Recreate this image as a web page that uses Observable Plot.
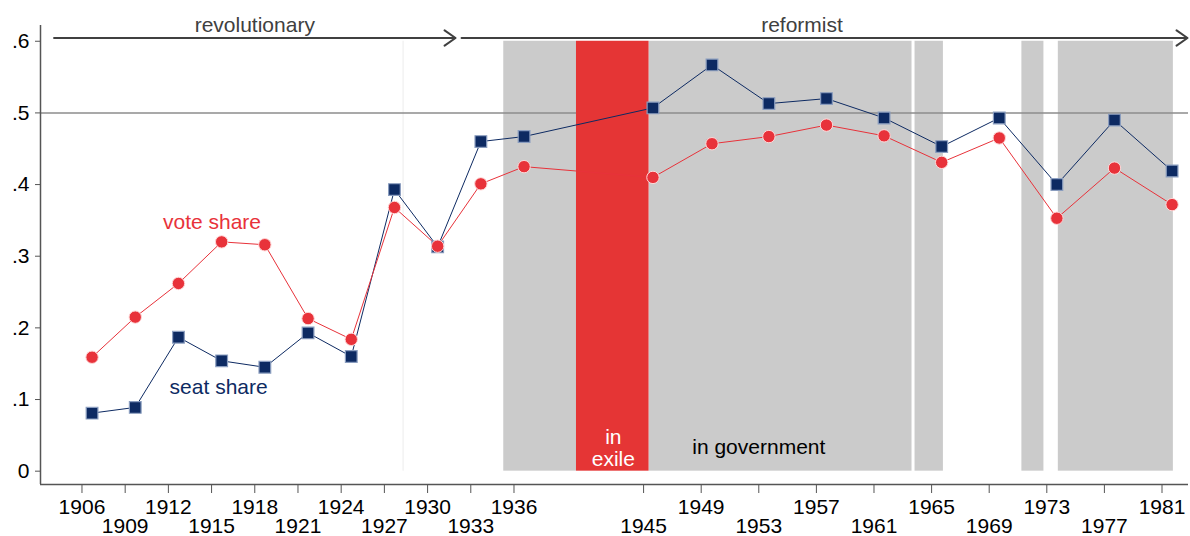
<!DOCTYPE html>
<html>
<head>
<meta charset="utf-8">
<script src="https://cdn.jsdelivr.net/npm/d3@7"></script>
<script src="https://cdn.jsdelivr.net/npm/@observablehq/plot@0.6"></script>
<style>
  body { margin: 0; background: #fff; }
  #chart svg { font-family: "Liberation Sans", Arial, Helvetica, sans-serif; }
</style>
</head>
<body>
<div id="chart"></div>
<script>
// election years (tick labels) and the date each point sits at
const years = [1906, 1909, 1912, 1915, 1918, 1921, 1924, 1927, 1930, 1933, 1936,
  1945, 1949, 1953, 1957, 1961, 1965, 1969, 1973, 1977, 1981];
const electionDate = [1906.7, 1909.7, 1912.7, 1915.7, 1918.7, 1921.7, 1924.7, 1927.7, 1930.7, 1933.7, 1936.7,
  1945.65, 1949.75, 1953.7, 1957.7, 1961.7, 1965.7, 1969.7, 1973.7, 1977.7, 1981.7];
const voteShare = [0.159, 0.215, 0.262, 0.320, 0.316, 0.213, 0.184, 0.368, 0.314, 0.401, 0.425,
  0.410, 0.457, 0.467, 0.483, 0.468, 0.431, 0.465, 0.353, 0.423, 0.372];
const seatShare = [0.081, 0.089, 0.187, 0.154, 0.145, 0.193, 0.160, 0.393, 0.313, 0.460, 0.467,
  0.507, 0.567, 0.513, 0.520, 0.493, 0.453, 0.493, 0.400, 0.490, 0.419];

const upperTicks = [1906, 1912, 1918, 1924, 1930, 1936, 1949, 1957, 1965, 1973, 1981];
const lowerTicks = [1909, 1915, 1921, 1927, 1933, 1945, 1953, 1961, 1969, 1977];
const yTicks = [0, 0.1, 0.2, 0.3, 0.4, 0.5, 0.6];

// periods in government (grey) and in exile (red)
const govStart = [1935.29, 1945.38, 1963.85, 1971.27, 1973.8];
const govEnd = [1940.34, 1963.64, 1965.82, 1972.8, 1981.79];
const exileStart = [1940.34];
const exileEnd = [1945.38];

const phaseLabel = ["revolutionary", "reformist"];
const phaseStart = [1904.06, 1932.36];
const phaseEnd = [1931.94, 1982.77];
const phaseMid = [1918.0, 1956.0];

const xDomain = [1903.12, 1982.84];
const yDomain = [-0.0186, 0.622];

const series = years.map((y, i) => ({year: y, date: electionDate[i], vote: voteShare[i], seat: seatShare[i]}));
const gov = govStart.map((s, i) => ({x1: s, x2: govEnd[i]}));
const exile = exileStart.map((s, i) => ({x1: s, x2: exileEnd[i]}));
const phases = phaseLabel.map((l, i) => ({label: l, x1: phaseStart[i], x2: phaseEnd[i], mid: phaseMid[i]}));

const red = "#e8323a";
const navy = "#0d2a62";
const axisGrey = "#555555";
const fs = 21;

const plot = Plot.plot({
  width: 1190,
  height: 536,
  marginLeft: 40,
  marginRight: 2,
  marginTop: 25,
  marginBottom: 52,
  style: {fontSize: fs + "px", fontFamily: "'Liberation Sans', Arial, Helvetica, sans-serif", color: "black", background: "white", overflow: "visible"},
  x: {domain: xDomain},
  y: {domain: yDomain},
  marks: [
    Plot.rectX(gov, {x1: "x1", x2: "x2", y1: 0, y2: 0.6, fill: "#cbcbcb"}),
    Plot.ruleX([1928.3], {y1: 0, y2: 0.6, stroke: "#ececec", strokeWidth: 1}),
    Plot.ruleY([0.5], {stroke: "#8c8c8c", strokeWidth: 1.5}),
    Plot.rectX(exile, {x1: "x1", x2: "x2", y1: 0, y2: 0.6, fill: "#e53535"}),
    Plot.text(["in\nexile"], {x: 1942.9, y: 0.0325, fill: "white", fontSize: fs, lineHeight: 1.08}),
    Plot.text(["in government"], {x: 1953.0, y: 0.0335, fill: "black", fontSize: fs}),
    // phase arrows
    Plot.arrow(phases, {x1: "x1", x2: "x2", y1: 0.6046, y2: 0.6046, stroke: "#404040", strokeWidth: 2, headLength: 10, headAngle: 70}),
    Plot.text(phases, {x: "mid", y: 0.622, text: "label", fill: "#404040", fontSize: fs}),
    // series
    Plot.line(series, {x: "date", y: "seat", stroke: navy, strokeWidth: 1}),
    Plot.line(series, {x: "date", y: "vote", stroke: red, strokeWidth: 1}),
    Plot.dot(series, {x: "date", y: "seat", symbol: "square", r: 6.6, fill: navy, stroke: "#8a9dbf", strokeWidth: 1.2}),
    Plot.dot(series, {x: "date", y: "vote", r: 6.2, fill: red, stroke: "#ffd9d9", strokeWidth: 1}),
    Plot.text(["vote share"], {x: 1915.03, y: 0.347, fill: red, fontSize: fs}),
    Plot.text(["seat share"], {x: 1915.49, y: 0.117, fill: navy, fontSize: fs}),
    // axes
    Plot.ruleX([xDomain[0]], {y1: yDomain[0], y2: yDomain[1], stroke: axisGrey, strokeWidth: 1.5}),
    Plot.ruleY([yDomain[0]], {x1: xDomain[0], x2: xDomain[1], stroke: axisGrey, strokeWidth: 1.5}),
    Plot.axisY({ticks: yTicks, tickSize: 5, tickPadding: 6, stroke: axisGrey, fill: "black",
      tickFormat: d => d === 0 ? "0" : d3.format(".1f")(d).slice(1), label: null}),
    Plot.axisX({ticks: upperTicks, tickSize: 9, tickPadding: 6, stroke: axisGrey, fill: "black",
      tickFormat: d => String(d), label: null}),
    Plot.axisX({ticks: lowerTicks, tickSize: 9, tickPadding: 25, stroke: axisGrey, fill: "black",
      tickFormat: d => String(d), label: null})
  ]
});
document.getElementById("chart").appendChild(plot);
</script>
</body>
</html>
